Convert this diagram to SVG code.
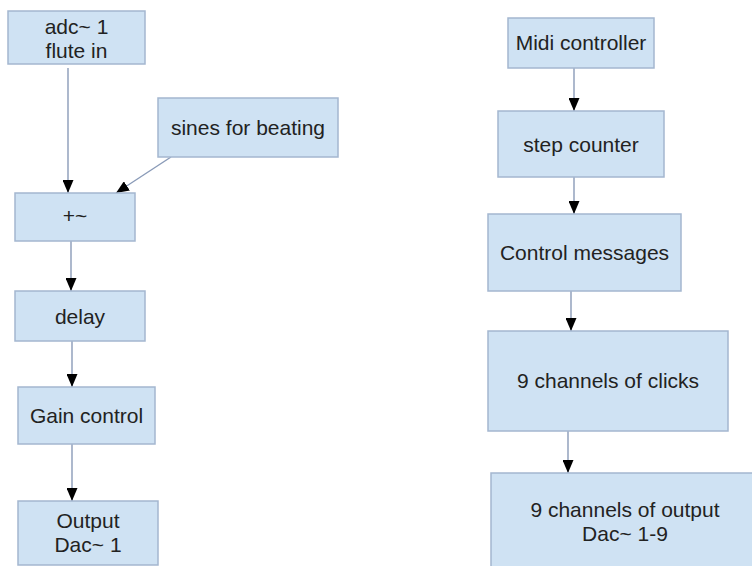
<svg xmlns="http://www.w3.org/2000/svg" width="752" height="566" viewBox="0 0 752 566">
<style>
.box{fill:#cfe2f3;stroke:#a4b6cf;stroke-width:1.5}
.t{font-family:"Liberation Sans",Arial,sans-serif;font-size:21px;fill:#222;text-anchor:middle}
.c{stroke:#8a9bb8;stroke-width:1.4;fill:none;marker-end:url(#ah)}
</style>
<defs>
<marker id="ah" markerUnits="userSpaceOnUse" markerWidth="13" markerHeight="11" viewBox="0 0 13 11" refX="13" refY="5.5" orient="auto">
<path d="M0,0 L13,5.5 L0,11 Z" fill="#000"/>
</marker>
</defs>
<rect width="752" height="566" fill="#fff"/>
<g id="connectors">
<line class="c" x1="68" y1="68" x2="68" y2="193"/>
<line class="c" x1="171" y1="157" x2="116" y2="193"/>
<line class="c" x1="71" y1="241" x2="71" y2="291"/>
<line class="c" x1="72" y1="341" x2="72" y2="387"/>
<line class="c" x1="72" y1="444" x2="72" y2="501"/>
<line class="c" x1="574" y1="68" x2="574" y2="111"/>
<line class="c" x1="574" y1="177" x2="574" y2="214"/>
<line class="c" x1="571" y1="291" x2="571" y2="331"/>
<line class="c" x1="568" y1="431" x2="568" y2="473"/>
</g>
<g id="adc"><rect class="box" x="8" y="11" width="137" height="53"/><text class="t" x="76.5" y="34">adc~ 1</text><text class="t" x="76.5" y="58">flute in</text></g>
<g id="sines"><rect class="box" x="158" y="98" width="180" height="59"/><text class="t" x="248" y="135">sines for beating</text></g>
<g id="plus"><rect class="box" x="15" y="193" width="120" height="48"/><text class="t" x="75" y="223">+~</text></g>
<g id="delay"><rect class="box" x="15" y="291" width="130" height="50"/><text class="t" x="80" y="324">delay</text></g>
<g id="gain"><rect class="box" x="18" y="387" width="137" height="57"/><text class="t" x="86.5" y="423">Gain control</text></g>
<g id="output"><rect class="box" x="18" y="501" width="140" height="64"/><text class="t" x="88" y="528">Output</text><text class="t" x="88" y="552">Dac~ 1</text></g>
<g id="midi"><rect class="box" x="508" y="18" width="146" height="50"/><text class="t" x="581" y="50">Midi controller</text></g>
<g id="step"><rect class="box" x="498" y="111" width="166" height="66"/><text class="t" x="581" y="152">step counter</text></g>
<g id="control"><rect class="box" x="488" y="214" width="193" height="77"/><text class="t" x="584.5" y="260">Control messages</text></g>
<g id="clicks"><rect class="box" x="488" y="331" width="240" height="100"/><text class="t" x="608" y="388">9 channels of clicks</text></g>
<g id="out9"><rect class="box" x="491" y="473" width="270" height="100"/><text class="t" x="625" y="517">9 channels of output</text><text class="t" x="625" y="541">Dac~ 1-9</text></g>
</svg>
